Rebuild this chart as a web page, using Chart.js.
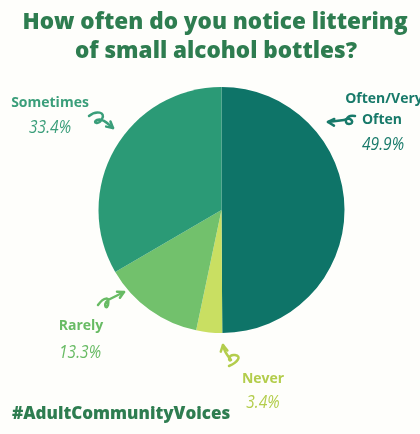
<!DOCTYPE html>
<html>
<head>
<meta charset="utf-8">
<script src="https://cdn.jsdelivr.net/npm/chart.js@4"></script>
<style>
html,body{margin:0;padding:0;background:#fefefb;}
#wrap{position:relative;width:420px;height:434px;}
</style>
</head>
<body>
<div id="wrap"><canvas id="c" width="420" height="434"></canvas></div>
<script>
const categories = ['Often/Very Often', 'Never', 'Rarely', 'Sometimes'];
const values = [49.9, 3.4, 13.3, 33.4];
const sliceColors = ['#0e7468', '#c9df62', '#72c16c', '#2b9a76'];
const labelColors = ['#187a6a', '#b3cd4c', '#68bb64', '#3a9e7a'];
const titleLines = ['How often do you notice littering', 'of small alcohol bottles?'];
const hashtag = '#AdultCommunityVoices';

// label placement (name lines, percentage) per category
const labelLayout = [
  {lines: ['Often/Very', 'Often'], x: [384, 382], y: [103, 124], px: 383, py: 150},
  {lines: ['Never'], x: [263], y: [383], px: 263, py: 408},
  {lines: ['Rarely'], x: [81], y: [330], px: 80, py: 358},
  {lines: ['Sometimes'], x: [50], y: [107], px: 50, py: 133}
];

function arrowHead(ctx, x, y, ang, len) {
  ctx.beginPath();
  ctx.moveTo(x - len*Math.cos(ang - 0.5), y - len*Math.sin(ang - 0.5));
  ctx.lineTo(x, y);
  ctx.lineTo(x - len*Math.cos(ang + 0.5), y - len*Math.sin(ang + 0.5));
  ctx.stroke();
}

const decor = {
  id: 'decor',
  afterDraw(chart) {
    const ctx = chart.ctx;
    ctx.save();
    // title
    ctx.fillStyle = '#2e7d50';
    ctx.textAlign = 'center';
    ctx.textBaseline = 'alphabetic';
    ctx.font = '800 22.5px "Open Sans"';
    ctx.fillText(titleLines[0], 215, 29);
    ctx.fillText(titleLines[1], 216, 58);
    // hashtag
    ctx.textAlign = 'left';
    ctx.font = '800 17px "Open Sans"';
    ctx.fillText(hashtag, 12, 419);
    // labels
    labelLayout.forEach((L, i) => {
      ctx.fillStyle = labelColors[i];
      ctx.textAlign = 'center';
      ctx.font = 'bold 14px "Open Sans"';
      L.lines.forEach((t, k) => ctx.fillText(t, L.x[k], L.y[k]));
      ctx.save();
      ctx.translate(L.px, L.py);
      ctx.scale(0.82, 1);
      ctx.font = 'italic 19px "Open Sans"';
      ctx.fillText(values[i].toFixed(1) + '%', 0, 0);
      ctx.restore();
    });
    // arrows
    ctx.lineWidth = 2.5;
    ctx.lineCap = 'round';
    ctx.lineJoin = 'round';
    // Sometimes arrow
    ctx.strokeStyle = labelColors[3];
    ctx.beginPath();
    ctx.moveTo(89, 116);
    ctx.bezierCurveTo(96, 110, 106, 112, 102, 119);
    ctx.bezierCurveTo(98, 126, 92, 122, 97, 120);
    ctx.bezierCurveTo(103, 118, 108, 124, 113, 128);
    ctx.stroke();
    arrowHead(ctx, 113, 128, 0.7, 7);
    // Often arrow
    ctx.strokeStyle = labelColors[0];
    ctx.beginPath();
    ctx.moveTo(355, 116);
    ctx.bezierCurveTo(346, 114, 343, 124, 349, 124);
    ctx.bezierCurveTo(355, 124, 352, 116, 344, 120);
    ctx.lineTo(328, 122);
    ctx.stroke();
    arrowHead(ctx, 328, 122, Math.PI + 0.05, 7);
    // Rarely arrow
    ctx.strokeStyle = labelColors[2];
    ctx.beginPath();
    ctx.moveTo(98, 305);
    ctx.bezierCurveTo(104, 297, 110, 296, 108, 305);
    ctx.bezierCurveTo(106, 311, 102, 303, 110, 299);
    ctx.lineTo(124, 292);
    ctx.stroke();
    arrowHead(ctx, 124, 292, -0.45, 7);
    // Never arrow
    ctx.strokeStyle = labelColors[1];
    ctx.beginPath();
    ctx.moveTo(229, 366);
    ctx.bezierCurveTo(238, 362, 242, 356, 235, 355);
    ctx.bezierCurveTo(228, 354, 228, 362, 231, 360);
    ctx.bezierCurveTo(228, 356, 224, 352, 223, 345);
    ctx.stroke();
    arrowHead(ctx, 223, 345, -1.75, 7);
    ctx.restore();
  }
};

new Chart(document.getElementById('c'), {
  type: 'pie',
  data: {
    labels: categories,
    datasets: [{
      data: values,
      backgroundColor: sliceColors,
      borderWidth: 0
    }]
  },
  options: {
    responsive: false,
    animation: false,
    layout: {padding: {top: 87, bottom: 101, left: 23, right: 0}},
    plugins: {legend: {display: false}, tooltip: {enabled: false}, title: {display: false}}
  },
  plugins: [decor]
});
</script>
</body>
</html>
